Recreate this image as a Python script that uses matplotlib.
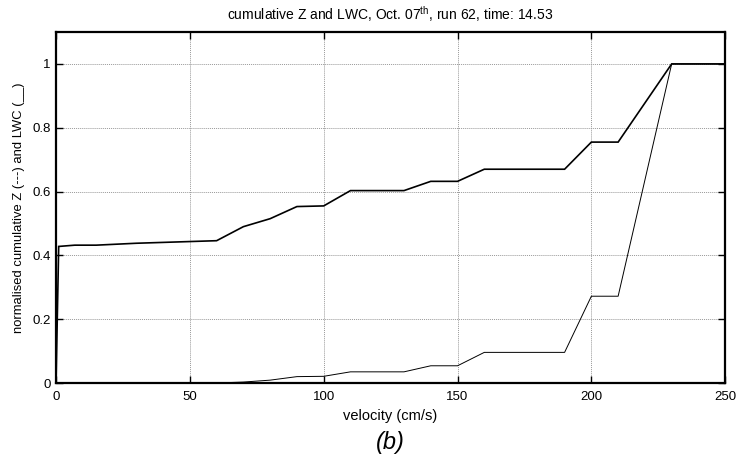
import matplotlib
matplotlib.use("Agg")
import matplotlib.pyplot as plt

plt.rcParams['font.family'] = ['Liberation Sans', 'DejaVu Sans']

# cumulative reflectivity (Z), normalised
vel_z = [0, 1, 7, 15, 30, 60, 70, 80, 90, 100, 110, 120, 130, 140, 150,
         160, 170, 180, 190, 200, 210, 230, 240, 250]
cum_z = [0.0, 0.428, 0.432, 0.432, 0.438, 0.446, 0.49, 0.515, 0.553, 0.555,
         0.603, 0.603, 0.603, 0.632, 0.632, 0.67, 0.67, 0.67, 0.67, 0.755,
         0.755, 1.0, 1.0, 1.0]

# cumulative liquid water content (LWC), normalised
vel_lwc = [0, 10, 20, 30, 40, 50, 60, 70, 80, 90, 100, 110, 120, 130, 140,
           150, 160, 170, 180, 190, 200, 210, 230, 240, 250]
cum_lwc = [0.0, 0.0, 0.0, 0.0, 0.0, 0.0, 0.0, 0.003, 0.009, 0.02, 0.021,
           0.035, 0.035, 0.035, 0.054, 0.054, 0.096, 0.096, 0.096, 0.096,
           0.272, 0.272, 1.0, 1.0, 1.0]

x_ticks = [0, 50, 100, 150, 200, 250]
y_ticks = [0, 0.2, 0.4, 0.6, 0.8, 1.0]
y_tick_labels = ['0', '0.2', '0.4', '0.6', '0.8', '1']

fig = plt.figure(figsize=(7.4, 4.68), dpi=100)
ax = fig.add_axes([0.0757, 0.1816, 0.9043, 0.75])

ax.plot(vel_z, cum_z, color='black', lw=1.2, solid_joinstyle='miter')
ax.plot(vel_lwc, cum_lwc, color='black', lw=0.7)

ax.set_xlim(0, 250)
ax.set_ylim(0, 1.1)
ax.set_xticks(x_ticks)
ax.set_yticks(y_ticks)
ax.set_yticklabels(y_tick_labels)
ax.tick_params(direction='in', length=5, width=1, top=True, right=True,
               labelsize=9.5, colors='black')
ax.tick_params(axis='x', pad=6)
ax.tick_params(axis='y', pad=4)
ax.grid(True, color='#999999', linestyle=(0, (1, 1)), lw=0.7)

for side in ax.spines.values():
    side.set_linewidth(1.6)
    side.set_color('black')

ax.set_title('cumulative Z and LWC, Oct. 07$^{\\mathregular{th}}$, run 62, time: 14.53',
             fontsize=10, pad=9)
ax.set_xlabel('velocity (cm/s)', fontsize=10.5, labelpad=4)
ax.set_ylabel('normalised cumulative Z (---) and LWC (__)', fontsize=9.4, labelpad=5)

fig.text(0.527, 0.055, '(b)', fontsize=17, style='italic', ha='center', va='center')

fig.savefig('out.png', dpi=100)
